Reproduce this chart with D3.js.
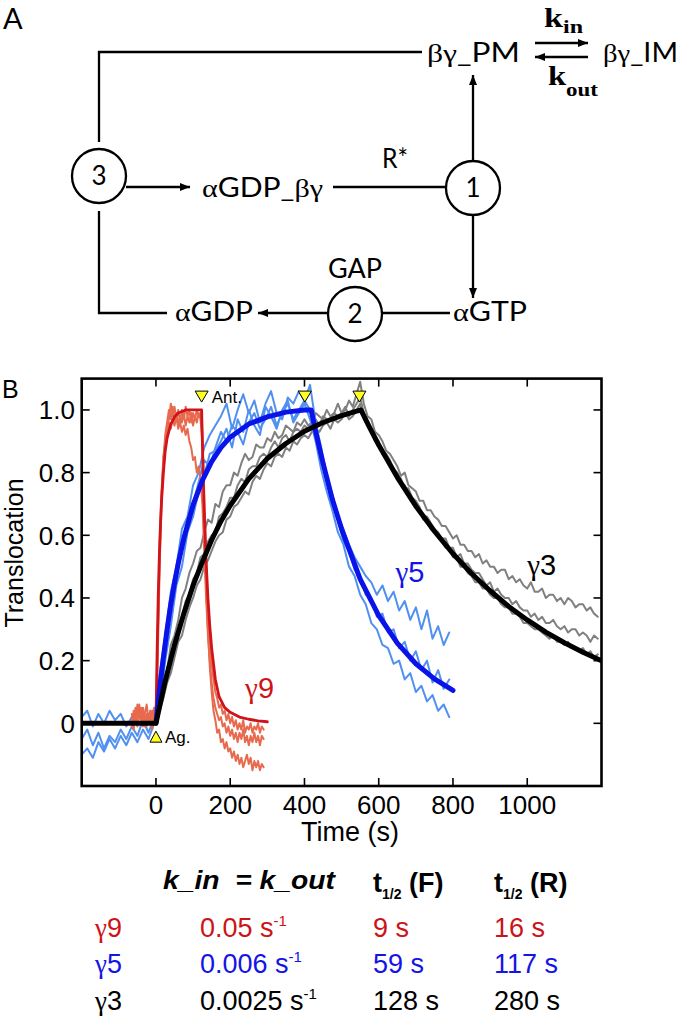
<!DOCTYPE html>
<html><head><meta charset="utf-8">
<script src="https://cdn.jsdelivr.net/npm/d3@7"></script>
<style>body{margin:0;background:#fff}svg{display:block}</style>
</head><body><svg id="c" width="680" height="1021"></svg>
<script>
// ---------------- DATA ----------------
const xTicks = [0, 200, 400, 600, 800, 1000];
const yTicks = [0, 0.2, 0.4, 0.6, 0.8, 1.0];
const yTickLabels = ["0", "0.2", "0.4", "0.6", "0.8", "1.0"];

// gamma3 (gray) traces, sampled every 10 s starting at 0 s
const grayT0 = 0, grayDt = 10;
const gray1 = [0.02,0.07,0.14,0.17,0.25,0.28,0.33,0.40,0.43,0.48,
 0.51,0.55,0.56,0.61,0.65,0.64,0.70,0.69,0.74,0.76,
 0.76,0.80,0.79,0.83,0.86,0.84,0.85,0.89,0.88,0.88,
 0.91,0.90,0.93,0.91,0.92,0.95,0.94,0.93,0.96,0.95,
 0.97,0.95,0.96,0.99,0.98,0.97,1.00,0.98,0.99,1.02,
 0.99,1.00,1.03,1.01,1.05,1.09,1.02,0.98,0.97,0.93,
 0.92,0.90,0.87,0.86,0.84,0.82,0.79,0.80,0.76,0.75,
 0.74,0.71,0.71,0.68,0.68,0.66,0.65,0.63,0.63,0.61,
 0.59,0.60,0.57,0.57,0.55,0.55,0.53,0.54,0.51,0.52,
 0.50,0.50,0.48,0.49,0.49,0.46,0.47,0.45,0.46,0.44,
 0.43,0.45,0.42,0.42,0.43,0.40,0.41,0.41,0.39,0.40,
 0.38,0.40,0.39,0.37,0.38,0.38,0.36,0.37,0.35,0.34];
const gray2 = [0.00,0.06,0.10,0.17,0.20,0.27,0.29,0.34,0.39,0.41,
 0.46,0.48,0.53,0.54,0.58,0.60,0.61,0.66,0.67,0.69,
 0.72,0.72,0.76,0.78,0.77,0.81,0.82,0.82,0.85,0.86,
 0.85,0.88,0.90,0.88,0.91,0.92,0.90,0.93,0.94,0.93,
 0.95,0.94,0.96,0.97,0.95,0.98,0.97,0.97,0.99,0.98,
 0.99,1.01,0.98,1.00,1.02,1.04,0.99,0.96,0.93,0.92,
 0.90,0.86,0.86,0.84,0.81,0.80,0.78,0.75,0.75,0.72,
 0.71,0.69,0.66,0.66,0.64,0.62,0.61,0.59,0.59,0.56,
 0.56,0.53,0.54,0.51,0.51,0.49,0.48,0.48,0.46,0.44,
 0.45,0.42,0.43,0.41,0.40,0.40,0.38,0.39,0.37,0.36,
 0.36,0.34,0.35,0.33,0.34,0.32,0.32,0.33,0.31,0.30,
 0.31,0.29,0.30,0.30,0.28,0.29,0.28,0.26,0.28,0.27];
const gray3 = [0.01,0.04,0.08,0.13,0.16,0.21,0.26,0.28,0.33,0.37,
 0.40,0.44,0.46,0.50,0.52,0.55,0.58,0.60,0.61,0.65,
 0.66,0.69,0.70,0.72,0.74,0.73,0.77,0.79,0.78,0.81,
 0.83,0.82,0.85,0.86,0.85,0.88,0.87,0.90,0.89,0.91,
 0.92,0.91,0.93,0.94,0.93,0.95,0.96,0.94,0.97,0.96,
 0.97,0.99,0.97,0.98,1.00,1.02,0.97,0.95,0.93,0.90,
 0.89,0.86,0.85,0.82,0.81,0.79,0.77,0.76,0.73,0.72,
 0.69,0.68,0.65,0.65,0.62,0.61,0.60,0.58,0.56,0.56,
 0.53,0.53,0.50,0.50,0.48,0.47,0.45,0.45,0.43,0.43,
 0.41,0.40,0.40,0.38,0.37,0.37,0.35,0.35,0.34,0.32,
 0.32,0.31,0.30,0.30,0.29,0.28,0.27,0.28,0.26,0.26,
 0.25,0.26,0.24,0.24,0.23,0.24,0.22,0.23,0.21,0.22];

// gamma5 (blue) traces, sampled every 15 s starting at -200 s
const blueT0 = -200, blueDt = 15;
const blue1 = [0.02,0.04,-0.01,0.03,0.00,0.04,0.01,0.03,-0.01,0.02,0.04,0.00,0.03,0.01,
 0.16,0.28,0.42,0.50,0.62,0.66,0.76,0.80,0.88,0.92,
 0.95,0.98,1.02,0.94,1.00,1.05,0.99,1.03,0.96,1.02,
 1.06,0.99,0.97,1.04,1.02,1.06,1.03,1.08,0.96,0.88,
 0.79,0.73,0.66,0.62,0.57,0.53,0.50,0.47,0.45,0.41,
 0.44,0.39,0.42,0.36,0.39,0.33,0.37,0.30,0.36,0.27,
 0.31,0.25,0.29];
const blue2 = [-0.05,-0.02,-0.07,-0.03,-0.08,-0.04,-0.06,-0.02,-0.05,-0.01,-0.04,0.01,-0.03,0.02,
 0.10,0.24,0.36,0.47,0.55,0.64,0.70,0.77,0.84,0.82,
 0.88,0.93,0.90,0.95,0.93,0.89,0.96,0.99,0.94,0.97,
 1.01,0.95,0.99,1.02,0.97,1.00,1.03,1.00,0.92,0.84,
 0.77,0.70,0.65,0.58,0.55,0.49,0.47,0.41,0.40,0.34,
 0.35,0.29,0.30,0.24,0.26,0.20,0.23,0.17,0.20,0.13,
 0.17,0.11,0.14];
const blue3 = [-0.10,-0.08,-0.11,-0.06,-0.09,-0.05,-0.08,-0.04,-0.07,-0.03,-0.06,-0.02,-0.05,0.00,
 0.06,0.20,0.31,0.44,0.50,0.61,0.66,0.74,0.79,0.86,
 0.87,0.90,0.94,0.88,0.97,0.93,1.00,0.95,0.92,1.01,
 0.98,0.94,1.00,1.03,0.96,0.99,1.02,0.97,0.90,0.81,
 0.74,0.68,0.61,0.57,0.50,0.47,0.41,0.38,0.32,0.30,
 0.25,0.24,0.19,0.20,0.14,0.16,0.10,0.12,0.07,0.09,
 0.04,0.06,0.02];

// gamma9 (red) traces, sampled every 5 s starting at -65 s
const redT0 = -65, redDt = 5;
const red1 = [0.03,0.00,0.05,0.02,0.06,0.01,0.04,-0.01,0.03,0.00,0.04,0.01,0.05,0.02,
 0.30,0.58,0.74,0.85,0.90,0.95,0.97,1.02,0.98,1.01,
 0.97,1.00,0.96,1.00,0.97,1.01,0.98,1.00,0.96,0.99,
 0.97,1.00,0.98,0.99,0.93,0.72,0.52,0.38,0.27,0.19,
 0.14,0.10,0.08,0.05,0.06,0.03,0.04,0.01,0.03,0.00,
 0.02,-0.01,0.01,-0.02,0.00,-0.02,0.01,-0.03,-0.01,-0.02,
 0.00,-0.03,-0.01,-0.02,0.00,-0.03,-0.01,-0.02];
const red2 = [-0.01,0.04,0.00,0.06,0.02,0.05,-0.01,0.03,0.06,0.01,0.04,-0.02,0.03,0.00,
 0.22,0.50,0.70,0.82,0.88,0.93,0.96,0.94,0.97,0.95,
 0.98,0.94,0.96,0.93,0.95,0.92,0.94,0.90,0.88,0.84,
 0.85,0.80,0.82,0.78,0.70,0.55,0.40,0.28,0.20,0.13,
 0.08,0.05,0.03,0.01,0.02,-0.01,0.00,-0.03,-0.01,-0.04,
 -0.02,-0.05,-0.03,-0.06,-0.03,-0.05,-0.02,-0.06,-0.04,-0.07,
 -0.04,-0.06,-0.03,-0.06,-0.04,-0.07,-0.04,-0.05];
const red3 = [0.02,-0.02,0.03,-0.01,0.04,0.00,0.05,0.02,-0.01,0.03,0.00,0.04,0.01,0.03,
 0.26,0.55,0.72,0.84,0.92,0.96,1.00,0.97,1.01,0.96,
 0.99,0.95,0.98,0.96,0.99,0.95,0.98,0.96,0.99,0.95,
 0.98,0.96,0.99,0.97,0.90,0.66,0.44,0.30,0.18,0.10,
 0.04,0.01,-0.03,-0.02,-0.06,-0.05,-0.08,-0.06,-0.09,-0.08,
 -0.11,-0.09,-0.12,-0.10,-0.13,-0.11,-0.14,-0.12,-0.10,-0.13,
 -0.11,-0.15,-0.12,-0.14,-0.12,-0.15,-0.13,-0.14];

// model fits
const blackFitT = [-200,0,25,50,75,100,125,150,175,200,250,300,350,400,450,500,552,575,600,650,700,750,800,850,900,950,1000,1050,1100,1150,1200];
const blackFitY = [0,0,0.135,0.25,0.35,0.44,0.515,0.585,0.645,0.695,0.78,0.845,0.893,0.932,0.96,0.982,1.0,0.945,0.888,0.785,0.693,0.613,0.541,0.478,0.423,0.373,0.33,0.291,0.257,0.227,0.2];
const blueFitT = [0,10,20,30,40,50,60,75,100,125,150,175,200,250,300,350,400,418,430,450,475,500,550,600,650,700,750,800];
const blueFitY = [0,0.113,0.21,0.3,0.38,0.448,0.51,0.59,0.697,0.775,0.835,0.88,0.913,0.955,0.978,0.993,1.0,1.0,0.932,0.83,0.715,0.62,0.46,0.344,0.256,0.19,0.142,0.105];
const redFitT = [0,3,6,9,12,15,20,25,30,40,50,60,80,123,126,130,135,140,145,150,160,170,185,200,225,250,275,300];
const redFitY = [0,0.22,0.4,0.53,0.63,0.71,0.8,0.87,0.91,0.955,0.978,0.99,1.0,1.0,0.85,0.68,0.52,0.4,0.31,0.24,0.14,0.085,0.05,0.035,0.02,0.013,0.008,0.005];

// event markers
const antTimes = [123, 401, 548];
const agTime = 0;

// table
const rowLabels = ["9", "5", "3"];
const kValues = ["0.05", "0.006", "0.0025"];
const tHalfF = ["9 s", "59 s", "128 s"];
const tHalfR = ["16 s", "117 s", "280 s"];
const rowColors = ["#cc1418", "#1414e6", "#000000"];

// ---------------- DRAW ----------------
const svg = d3.select("#c");
const SANS = "'Liberation Sans', Arial, Helvetica, sans-serif";
const DIA = "Lato, 'Open Sans', sans-serif";
const SERIF = "'Liberation Serif', 'DejaVu Serif', serif";

const defs = svg.append("defs");
defs.append("marker").attr("id", "ah").attr("viewBox", "0 0 10 8")
  .attr("refX", 10).attr("refY", 4).attr("markerWidth", 10).attr("markerHeight", 8)
  .attr("markerUnits", "userSpaceOnUse").attr("orient", "auto")
  .append("path").attr("d", "M0,0L10,4L0,8Z").attr("fill", "#000");

// ---- Panel A: diagram ----
const dg = svg.append("g");
function seg(d, arrow) {
  dg.append("path").attr("d", d).attr("fill", "none").attr("stroke", "#000")
    .attr("stroke-width", 2.3).attr("marker-end", arrow ? "url(#ah)" : null);
}
function label(x, y, parts, len) {
  const t = dg.append("text").attr("x", x).attr("y", y).attr("font-family", DIA)
    .attr("font-size", 26).attr("fill", "#000");
  if (len) t.attr("textLength", len).attr("lengthAdjust", "spacingAndGlyphs");
  parts.forEach(p => {
    const s = t.append("tspan").text(p[0]);
    if (p[1]) s.attr("font-family", SERIF);
  });
}
function node(cx, cy, n) {
  dg.append("circle").attr("cx", cx).attr("cy", cy).attr("r", 27)
    .attr("fill", "none").attr("stroke", "#000").attr("stroke-width", 2.3);
  dg.append("text").attr("x", cx).attr("y", cy + 9).attr("text-anchor", "middle")
    .attr("font-family", DIA).attr("font-size", 26).text(n);
}
svg.append("text").attr("x", 3).attr("y", 29).attr("font-family", DIA).attr("font-size", 29).text("A");

seg("M99,142V52H422");
seg("M99,211V313H167");
seg("M126,187H190", true);
seg("M333,187H446");
seg("M473,161V75", true);
seg("M473,215V298", true);
seg("M328,313H258", true);
seg("M382,313H450");
seg("M535,43H588", true);
seg("M588,57H535", true);
node(99, 176, "3");
node(473, 188, "1");
node(355, 314, "2");

label(427, 62, [["βγ", true], ["_PM", false]], 93);
label(603, 62, [["βγ", true], ["_IM", false]], 75);
label(202, 197, [["α", true], ["GDP_", false], ["βγ", true]], 121);
label(382, 168, [["R*", false]], 26);
label(328, 278, [["GAP", false]], 54);
label(175, 321, [["α", true], ["GDP", false]], 78);
label(453, 321, [["α", true], ["GTP", false]], 74);

const kin = dg.append("text").attr("x", 544).attr("y", 27).attr("font-family", SERIF)
  .attr("font-weight", "bold").attr("font-size", 27)
  .attr("textLength", 39).attr("lengthAdjust", "spacingAndGlyphs");
kin.append("tspan").text("k");
kin.append("tspan").attr("font-size", 19).attr("dy", 6).text("in");
const kout = dg.append("text").attr("x", 548).attr("y", 85).attr("font-family", SERIF)
  .attr("font-weight", "bold").attr("font-size", 27)
  .attr("textLength", 50).attr("lengthAdjust", "spacingAndGlyphs");
kout.append("tspan").text("k");
kout.append("tspan").attr("font-size", 19).attr("dy", 11).text("out");

// ---- Panel B: plot ----
const L = 81.7, R = 601.5, T = 378.6, B = 786;
const x = d3.scaleLinear().domain([-200, 1200]).range([L, R]);
const y = d3.scaleLinear().domain([-0.2, 1.1]).range([B, T]);

svg.append("text").attr("x", 2).attr("y", 398).attr("font-family", SANS).attr("font-size", 25).text("B");

defs.append("clipPath").attr("id", "pc").append("rect")
  .attr("x", L).attr("y", T).attr("width", R - L).attr("height", B - T);
const plot = svg.append("g").attr("clip-path", "url(#pc)");

const line = d3.line().x(d => x(d[0])).y(d => y(d[1]));
function series(vals, t0, dt) { return vals.map((v, i) => [t0 + i * dt, v]); }
function pairs(ts, vs) { return ts.map((t, i) => [t, vs[i]]); }
function draw(data, color, w) {
  plot.append("path").datum(data).attr("d", line).attr("fill", "none")
    .attr("stroke", color).attr("stroke-width", w)
    .attr("stroke-linejoin", "round").attr("stroke-linecap", "round");
}
[gray1, gray2, gray3].forEach(s => draw(series(s, grayT0, grayDt), "#808080", 2));
[blue1, blue2, blue3].forEach(s => draw(series(s, blueT0, blueDt), "#5090f0", 2));
[red1, red2, red3].forEach(s => draw(series(s, redT0, redDt), "#e86a4e", 2));
draw(pairs(redFitT, redFitY), "#d0141a", 2.8);
draw(pairs(blueFitT, blueFitY), "#0a14e8", 5);
draw(pairs(blackFitT, blackFitY), "#000000", 5);

// markers
const mk = svg.append("g");
antTimes.forEach(t => {
  const cx = x(t), ty = y(1.025);
  mk.append("path").attr("d", `M${cx - 6.5},${ty - 11}L${cx + 6.5},${ty - 11}L${cx},${ty}Z`)
    .attr("fill", "#ffff22").attr("stroke", "#000").attr("stroke-width", 1);
});
{
  const cx = x(agTime), ty = y(-0.025);
  mk.append("path").attr("d", `M${cx - 6},${ty + 11}L${cx + 6},${ty + 11}L${cx},${ty}Z`)
    .attr("fill", "#ffff22").attr("stroke", "#000").attr("stroke-width", 1);
}
mk.append("text").attr("x", x(antTimes[0]) + 10).attr("y", 403).attr("font-family", SANS)
  .attr("font-size", 17).text("Ant.");
mk.append("text").attr("x", x(agTime) + 9).attr("y", 743).attr("font-family", SANS)
  .attr("font-size", 17).text("Ag.");

// frame + ticks
const ax = svg.append("g");
ax.append("rect").attr("x", L).attr("y", T).attr("width", R - L).attr("height", B - T)
  .attr("fill", "none").attr("stroke", "#000").attr("stroke-width", 2.6);
xTicks.forEach(v => {
  ax.append("line").attr("x1", x(v)).attr("x2", x(v)).attr("y1", B).attr("y2", B - 8).attr("stroke", "#000").attr("stroke-width", 1.6);
  ax.append("line").attr("x1", x(v)).attr("x2", x(v)).attr("y1", T).attr("y2", T + 8).attr("stroke", "#000").attr("stroke-width", 1.6);
  ax.append("text").attr("x", x(v)).attr("y", 814).attr("text-anchor", "middle")
    .attr("font-family", SANS).attr("font-size", 26).text(v);
});
yTicks.forEach((v, i) => {
  ax.append("line").attr("x1", L).attr("x2", L + 8).attr("y1", y(v)).attr("y2", y(v)).attr("stroke", "#000").attr("stroke-width", 1.6);
  ax.append("line").attr("x1", R).attr("x2", R - 8).attr("y1", y(v)).attr("y2", y(v)).attr("stroke", "#000").attr("stroke-width", 1.6);
  ax.append("text").attr("x", 75).attr("y", y(v) + 9.3).attr("text-anchor", "end")
    .attr("font-family", SANS).attr("font-size", 26).text(yTickLabels[i]);
});
ax.append("text").attr("x", 350).attr("y", 841).attr("text-anchor", "middle")
  .attr("font-family", SANS).attr("font-size", 27).text("Time (s)");
ax.append("text").attr("transform", "translate(23,553) rotate(-90)").attr("text-anchor", "middle")
  .attr("font-family", SANS).attr("font-size", 25).text("Translocation");

// curve labels
function glabel(xv, yv, n, color) {
  const t = svg.append("text").attr("x", x(xv)).attr("y", y(yv)).attr("font-family", SANS)
    .attr("font-size", 29).attr("fill", color);
  t.append("tspan").attr("font-family", SERIF).text("γ");
  t.append("tspan").text(n);
}
glabel(240, 0.08, "9", "#cc1418");
glabel(645, 0.45, "5", "#1414e6");
glabel(1000, 0.474, "3", "#000");

// ---- table ----
const tb = svg.append("g").attr("font-family", SANS);
tb.append("text").attr("x", 163).attr("y", 889).attr("font-size", 26).attr("font-weight", "bold")
  .attr("font-style", "italic").attr("textLength", 172).attr("lengthAdjust", "spacingAndGlyphs")
  .attr("xml:space", "preserve").text("k_in  = k_out");
[[373, "F"], [494, "R"]].forEach(([hx, l]) => {
  const t = tb.append("text").attr("x", hx).attr("y", 892).attr("font-size", 27).attr("font-weight", "bold");
  t.append("tspan").text("t");
  t.append("tspan").attr("font-size", 14).attr("dy", 7).text("1/2");
  t.append("tspan").attr("dy", -7).text("\u00a0(" + l + ")");
});
const rowY = [937, 973, 1010];
rowLabels.forEach((n, i) => {
  const c = rowColors[i];
  const g = tb.append("text").attr("x", 95).attr("y", rowY[i]).attr("font-size", 27).attr("fill", c);
  g.append("tspan").attr("font-family", SERIF).text("γ");
  g.append("tspan").text(n);
  const k = tb.append("text").attr("x", 200).attr("y", rowY[i]).attr("font-size", 27).attr("fill", c);
  k.append("tspan").text(kValues[i] + " s");
  k.append("tspan").attr("font-size", 15).attr("dy", -11).text("-1");
  tb.append("text").attr("x", 373).attr("y", rowY[i]).attr("font-size", 27).attr("fill", c).text(tHalfF[i]);
  tb.append("text").attr("x", 494).attr("y", rowY[i]).attr("font-size", 27).attr("fill", c).text(tHalfR[i]);
});
</script></body></html>
